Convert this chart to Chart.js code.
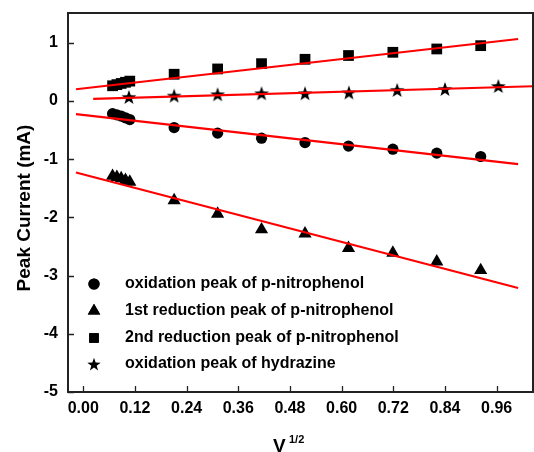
<!DOCTYPE html>
<html>
<head>
<meta charset="utf-8">
<title>Peak current vs V^1/2</title>
<script src="https://cdn.jsdelivr.net/npm/chart.js@4.4.0/dist/chart.umd.min.js"></script>
<style>
  html, body { margin: 0; padding: 0; background: #fff; overflow: hidden; }
  #wrap { width: 534px; height: 452px; }
  canvas { display: block; }
</style>
</head>
<body>
<div id="wrap"><canvas id="chart" width="534" height="452"></canvas></div>
<script>
'use strict';

// Data.
const xNitro = [0.068, 0.078, 0.088, 0.098, 0.108, 0.211, 0.312, 0.414, 0.515, 0.616, 0.719, 0.821, 0.923];
const oxidationNitro = [-0.22, -0.24, -0.26, -0.29, -0.32, -0.458, -0.554, -0.64, -0.715, -0.775, -0.829, -0.897, -0.955];
const reduction1Nitro = [-1.29, -1.31, -1.33, -1.36, -1.39, -1.71, -1.94, -2.21, -2.28, -2.53, -2.61, -2.76, -2.91];
const reduction2Nitro = [0.26, 0.28, 0.30, 0.32, 0.34, 0.458, 0.549, 0.64, 0.715, 0.78, 0.835, 0.892, 0.949];
const xHydrazine = [0.106, 0.211, 0.312, 0.414, 0.515, 0.617, 0.729, 0.840, 0.964];
const oxidationHydrazine = [0.069, 0.091, 0.115, 0.132, 0.132, 0.146, 0.189, 0.206, 0.257];

// Fitted lines (end points).
const fitX = [-0.017, 1.01];
const oxidationFit = [-0.228, -1.086];
const reduction1Fit = [-1.23, -3.213];
const reduction2Fit = [0.2, 1.063];
const hydrazineFitX = [0.023, 1.045];
const hydrazineFit = [0.034, 0.252];

const legendLabels = [
  'oxidation peak of p-nitrophenol',
  '1st reduction peak of p-nitrophenol',
  '2nd reduction peak of p-nitrophenol',
  'oxidation peak of hydrazine'
];
const xTicks = [0, 0.12, 0.24, 0.36, 0.48, 0.60, 0.72, 0.84, 0.96];
const yTicks = [-5, -4, -3, -2, -1, 0, 1];

const FONT = '"Liberation Sans", Arial, sans-serif';

// Filled 5-point star for the hydrazine series.
function makeStar(outer, inner) {
  const size = Math.ceil(outer * 2 + 2);
  const c = document.createElement('canvas');
  c.width = size;
  c.height = size;
  const g = c.getContext('2d');
  const cx = size / 2, cy = size / 2 + 0.8;
  g.beginPath();
  for (let i = 0; i < 10; i++) {
    const r = i % 2 === 0 ? outer : inner;
    const a = -Math.PI / 2 + i * Math.PI / 5;
    const px = cx + r * Math.cos(a), py = cy + r * Math.sin(a);
    if (i === 0) g.moveTo(px, py); else g.lineTo(px, py);
  }
  g.closePath();
  g.fillStyle = '#000';
  g.fill();
  return c;
}
const starImg = makeStar(7.8, 3.1);
const starLegend = makeStar(7, 2.8);

function toPoints(xs, ys) {
  return xs.map((x, i) => ({x: x, y: ys[i]}));
}

function markerSet(label, xs, ys, style, radius) {
  return {
    label: label,
    data: toPoints(xs, ys),
    showLine: false,
    pointStyle: style,
    pointRadius: radius,
    pointHoverRadius: radius,
    backgroundColor: '#000',
    borderColor: '#000',
    borderWidth: 0,
    order: 1
  };
}

function fitSet(xs, ys) {
  return {
    label: 'fit',
    data: toPoints(xs, ys),
    showLine: true,
    pointRadius: 0,
    borderColor: '#ff0000',
    borderWidth: 2.2,
    fill: false,
    order: 0
  };
}

const datasets = [
  markerSet(legendLabels[0], xNitro, oxidationNitro, 'circle', 5.6),
  markerSet(legendLabels[1], xNitro, reduction1Nitro, 'triangle', 7.6),
  markerSet(legendLabels[2], xNitro, reduction2Nitro, 'rect', 7.6),
  markerSet(legendLabels[3], xHydrazine, oxidationHydrazine, starImg, 8),
  fitSet(fitX, oxidationFit),
  fitSet(fitX, reduction1Fit),
  fitSet(fitX, reduction2Fit),
  fitSet(hydrazineFitX, hydrazineFit)
];

// Frame, inward ticks, legend and axis titles.
const decorations = {
  id: 'decorations',
  afterDraw(chart) {
    const ctx = chart.ctx;
    const a = chart.chartArea;
    const xs = chart.scales.x, ys = chart.scales.y;
    ctx.save();

    ctx.strokeStyle = '#222';
    ctx.lineWidth = 1.3;
    ctx.beginPath();
    xTicks.forEach(v => {
      const px = Math.round(xs.getPixelForValue(v)) + 0.5;
      ctx.moveTo(px, a.bottom);
      ctx.lineTo(px, a.bottom - 6);
    });
    yTicks.forEach(v => {
      const py = Math.round(ys.getPixelForValue(v)) + 0.5;
      ctx.moveTo(a.left, py);
      ctx.lineTo(a.left + 6, py);
    });
    ctx.stroke();

    ctx.lineWidth = 2;
    ctx.strokeRect(a.left, a.top, a.right - a.left, a.bottom - a.top);

    // Legend
    const styles = ['circle', 'triangle', 'rect', starLegend];
    const radii = [5.6, 7.2, 6.6, 7];
    const rowY = [284, 311, 338, 364];
    ctx.fillStyle = '#000';
    ctx.font = 'bold 16px ' + FONT;
    ctx.textBaseline = 'middle';
    ctx.textAlign = 'left';
    for (let i = 0; i < legendLabels.length; i++) {
      Chart.helpers.drawPoint(ctx, {
        pointStyle: styles[i], radius: radii[i], rotation: 0, borderWidth: 0
      }, 94, rowY[i]);
      ctx.fillStyle = '#000';
      ctx.fill();
      ctx.fillText(legendLabels[i], 125, rowY[i]);
    }

    // Y axis title
    ctx.save();
    ctx.translate(25, 208);
    ctx.rotate(-Math.PI / 2);
    ctx.textAlign = 'center';
    ctx.textBaseline = 'middle';
    ctx.font = 'bold 19px ' + FONT;
    ctx.fillText('Peak Current (mA)', 0, 0);
    ctx.restore();

    // X axis title with superscript
    ctx.textAlign = 'left';
    ctx.textBaseline = 'alphabetic';
    ctx.font = 'bold 19px ' + FONT;
    ctx.fillText('V', 273, 452);
    ctx.font = 'bold 11px ' + FONT;
    ctx.fillText('1/2', 289, 443);

    ctx.restore();
  }
};

const config = {
  type: 'scatter',
  data: {datasets: datasets},
  options: {
    responsive: false,
    animation: false,
    layout: {autoPadding: false, padding: {top: 13, right: 1, left: 0, bottom: 0}},
    plugins: {
      legend: {display: false},
      tooltip: {enabled: false}
    },
    scales: {
      x: {
        type: 'linear',
        min: -0.0355,
        max: 1.0445,
        afterBuildTicks: s => { s.ticks = xTicks.map(v => ({value: v})); },
        afterFit: s => {
          s.height = 60;
          s.paddingLeft = 0;
          s.paddingRight = 0;
        },
        grid: {display: false, drawTicks: false},
        border: {display: false},
        ticks: {
          color: '#000',
          padding: 7,
          maxRotation: 0,
          autoSkip: false,
          font: {family: FONT, size: 16, weight: 'bold'},
          callback: v => v.toFixed(2)
        }
      },
      y: {
        type: 'linear',
        min: -5,
        max: 1.51,
        afterBuildTicks: s => { s.ticks = yTicks.map(v => ({value: v})); },
        afterFit: s => {
          s.width = 68;
          s.paddingTop = 0;
          s.paddingBottom = 0;
        },
        grid: {display: false, drawTicks: false},
        border: {display: false},
        ticks: {
          color: '#000',
          padding: 10,
          autoSkip: false,
          font: {family: FONT, size: 16, weight: 'bold'},
          callback: v => String(v)
        }
      }
    }
  },
  plugins: [decorations]
};

const chartResults = new Chart(document.getElementById('chart'), config);
</script>
</body>
</html>
